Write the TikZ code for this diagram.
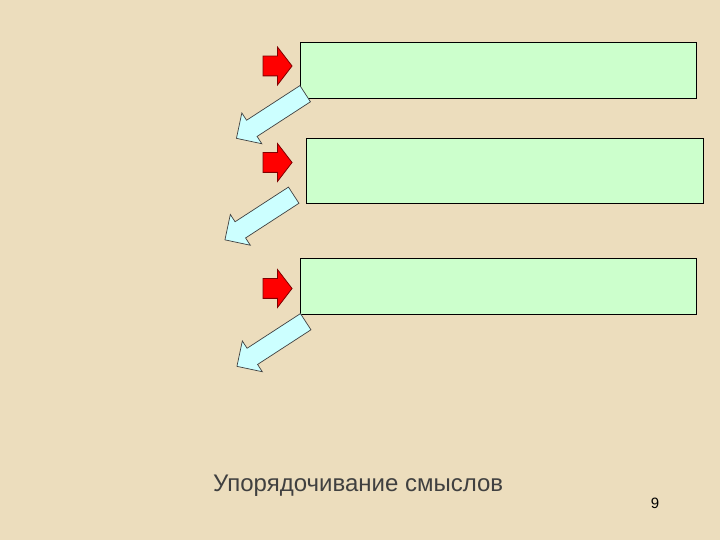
\documentclass[tikz,border=0pt]{standalone}
\usepackage{fontspec}
\setmainfont{Liberation Sans}
\usetikzlibrary{shapes.arrows,positioning}
\definecolor{parchment}{RGB}{236,221,189}
\definecolor{boxgreen}{RGB}{204,255,204}
\definecolor{palecyan}{RGB}{204,255,255}
\definecolor{darkred}{RGB}{128,0,0}
\definecolor{textgray}{RGB}{64,64,64}

\begin{document}
\begin{tikzpicture}[x=1pt,y=1pt,
	box/.style={draw=black,line width=0.9pt,fill=boxgreen,minimum width=396pt,minimum height=56pt,inner sep=0pt},
	redarrow/.style={single arrow,draw=darkred,fill=red,line width=0.8pt,minimum height=29pt,
		inner xsep=0pt,inner ysep=9.5pt,single arrow head extend=9pt,single arrow tip angle=105},
	cyanarrow/.style={single arrow,draw=black!75,fill=palecyan,line width=0.7pt,minimum height=82pt,
		inner xsep=0pt,inner ysep=9.3pt,single arrow head extend=8.7pt,rotate=213,anchor=tail}]
	\fill[parchment] (0,0) rectangle (720,540);
	\useasboundingbox (0,0) rectangle (720,540);
	% boxes
	\node[box] (b1) at (498,470) {};
	\node[box,minimum width=397pt,minimum height=65pt] (b2) at (504.5,369.5) {};
	\node[box] (b3) at (498,254) {};
	% red arrows
	\node[redarrow] (r1) [left=7pt of b1.west,yshift=4pt] {};
	\node[redarrow] (r2) [left=13pt of b2.west,yshift=8pt] {};
	\node[redarrow] (r3) [left=7pt of b3.west,yshift=-2.5pt] {};
	% cyan arrows
	\node[cyanarrow] (c1) at (305.5,446.5) {};
	\node[cyanarrow] (c2) at (294,345) {};
	\node[cyanarrow] (c3) at (306,218.5) {};
	% footer
	\node[anchor=base west,inner sep=0pt,font=\fontsize{24}{28}\selectfont,text=textgray] (title) at (213,48) {Упорядочивание смыслов};
	\node[inner sep=0pt,font=\fontsize{15}{18}\selectfont,text=black] (pagenum) at (655,36.5) {9};
\end{tikzpicture}
\end{document}
